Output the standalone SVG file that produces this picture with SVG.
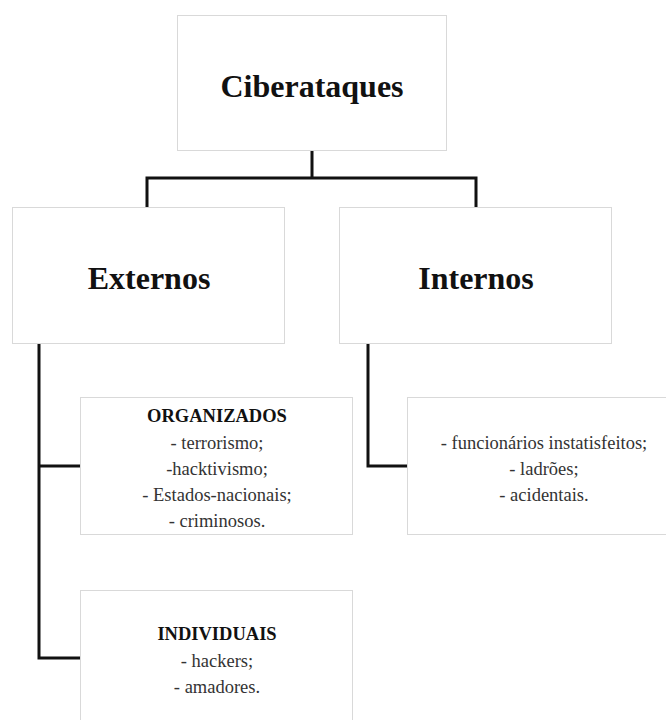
<svg xmlns="http://www.w3.org/2000/svg" width="666" height="720" viewBox="0 0 666 720">
<style>
.box{fill:#fff;stroke:#d9d9d9;stroke-width:1}
.conn{fill:none;stroke:#111;stroke-width:3;stroke-linejoin:miter}
.big{font-family:"Liberation Serif","Times New Roman",serif;font-weight:bold;font-size:32px;fill:#111;text-anchor:middle}
.hd{font-family:"Liberation Serif","Times New Roman",serif;font-weight:bold;font-size:18.5px;fill:#111;text-anchor:middle}
.tx{font-family:"Liberation Serif","Times New Roman",serif;font-size:18.5px;fill:#333;text-anchor:middle}
</style>
<rect width="666" height="720" fill="#fff"/>
<g id="connectors">
<path class="conn" d="M312,150 V178 M147,207 V178 H476 V207"/>
<path class="conn" d="M39,343 V658 H80 M39,466 H80"/>
<path class="conn" d="M368,343 V466 H407"/>
</g>
<g id="ciberataques">
<rect class="box" x="177.5" y="15.5" width="269" height="135"/>
<text class="big" x="312" y="97">Ciberataques</text>
</g>
<g id="externos">
<rect class="box" x="12.5" y="207.5" width="272" height="136"/>
<text class="big" x="149" y="289">Externos</text>
</g>
<g id="internos">
<rect class="box" x="339.5" y="207.5" width="272" height="136"/>
<text class="big" x="476" y="289">Internos</text>
</g>
<g id="organizados">
<rect class="box" x="80.5" y="397.5" width="272" height="137"/>
<text class="hd" x="217" y="422">ORGANIZADOS</text>
<text class="tx" x="217" y="449">- terrorismo;</text>
<text class="tx" x="217" y="475">-hacktivismo;</text>
<text class="tx" x="217" y="501">- Estados-nacionais;</text>
<text class="tx" x="217" y="527">- criminosos.</text>
</g>
<g id="individuais">
<rect class="box" x="80.5" y="590.5" width="272" height="150"/>
<text class="hd" x="217" y="640">INDIVIDUAIS</text>
<text class="tx" x="217" y="667">- hackers;</text>
<text class="tx" x="217" y="693">- amadores.</text>
</g>
<g id="internos-detalhe">
<rect class="box" x="407.5" y="397.5" width="272" height="137"/>
<text class="tx" x="544" y="449">- funcionários instatisfeitos;</text>
<text class="tx" x="544" y="475">- ladrões;</text>
<text class="tx" x="544" y="501">- acidentais.</text>
</g>
</svg>
